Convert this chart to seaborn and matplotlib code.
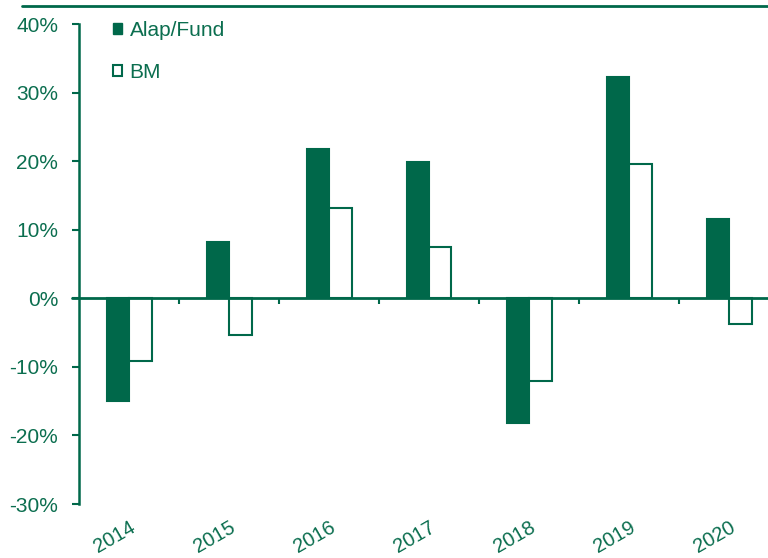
import matplotlib
matplotlib.use("Agg")
import matplotlib.pyplot as plt
import seaborn as sns
import numpy as np
import pandas as pd
from matplotlib.lines import Line2D
from matplotlib.patches import Patch
from matplotlib.ticker import PercentFormatter

# Colours
green = "#00684a"
text_green = "#0b6e4f"

# Yearly returns
years = ["2014", "2015", "2016", "2017", "2018", "2019", "2020"]
fund = [-0.150, 0.082, 0.218, 0.199, -0.182, 0.323, 0.116]
bm = [-0.092, -0.054, 0.132, 0.075, -0.121, 0.196, -0.038]
series_names = ["Alap/Fund", "BM"]

data = pd.DataFrame({
    "year": years * 2,
    "value": fund + bm,
    "series": [series_names[0]] * len(years) + [series_names[1]] * len(years),
})

# Axis limits and breaks
y_min, y_max, y_step = -0.30, 0.40, 0.10

sns.set_style("white")
plt.rcParams["font.family"] = ["Liberation Sans", "DejaVu Sans"]
plt.rcParams["axes.unicode_minus"] = False

fig = plt.figure(figsize=(7.68, 5.58), dpi=100)
ax = fig.add_axes([79 / 768, 1 - 504 / 558, 1 - 79 / 768, (504 - 24) / 558])

sns.barplot(data=data, x="year", y="value", hue="series", order=years,
            hue_order=series_names, palette={"Alap/Fund": green, "BM": "white"},
            edgecolor=green, linewidth=1.5, width=0.45, gap=0, saturation=1,
            legend=False, ax=ax)

ax.set_ylim(y_min, y_max)
ax.set_yticks(np.arange(y_min, y_max + 0.001, y_step))
ax.yaxis.set_major_formatter(PercentFormatter(1.0, decimals=0))
# the axis continues past the right edge of the picture
ax.set_xlim(-0.5, 6.39)

ax.set_xticks(np.arange(len(years)))
ax.set_xticklabels(years, rotation=30, ha="right", va="top", rotation_mode="anchor",
                   fontsize=14.5, color=text_green)
ax.tick_params(axis="x", length=0, pad=10)
ax.tick_params(axis="y", direction="out", length=5, width=1.5, color=green,
               labelsize=15, labelcolor=text_green, pad=10, left=True)
ax.set_xlabel("")
ax.set_ylabel("")

for side in ["top", "right", "bottom"]:
    ax.spines[side].set_visible(False)
ax.spines["left"].set_color(green)
ax.spines["left"].set_linewidth(1.8)

# zero line with small ticks between years
ax.axhline(0, color=green, linewidth=2, xmin=-0.01, clip_on=False, zorder=3)
zero_loc = (0 - y_min) / (y_max - y_min)
sec = ax.secondary_xaxis(zero_loc)
sec.set_xticks(np.arange(len(years) - 1) + 0.5)
sec.set_xticklabels([])
sec.tick_params(direction="out", length=4, width=1.5, color=green)
sec.spines["bottom"].set_visible(False)

# decorative line across the top
fig.add_artist(Line2D([22 / 768, 1.0], [1 - 6 / 558, 1 - 6 / 558],
                      color=green, linewidth=2, transform=fig.transFigure))

handles = [Patch(facecolor=green, edgecolor=green, linewidth=1),
           Patch(facecolor="white", edgecolor=green, linewidth=1.5)]
leg = ax.legend(handles, series_names, loc="upper left",
                bbox_to_anchor=(113 / 768, 1 - 21 / 558), bbox_transform=fig.transFigure,
                frameon=False, fontsize=15, handlelength=0.45, handleheight=0.45,
                handletextpad=0.35, labelspacing=1.1, borderpad=0, borderaxespad=0)
for t in leg.get_texts():
    t.set_color(text_green)

fig.savefig("out.png", dpi=100)
